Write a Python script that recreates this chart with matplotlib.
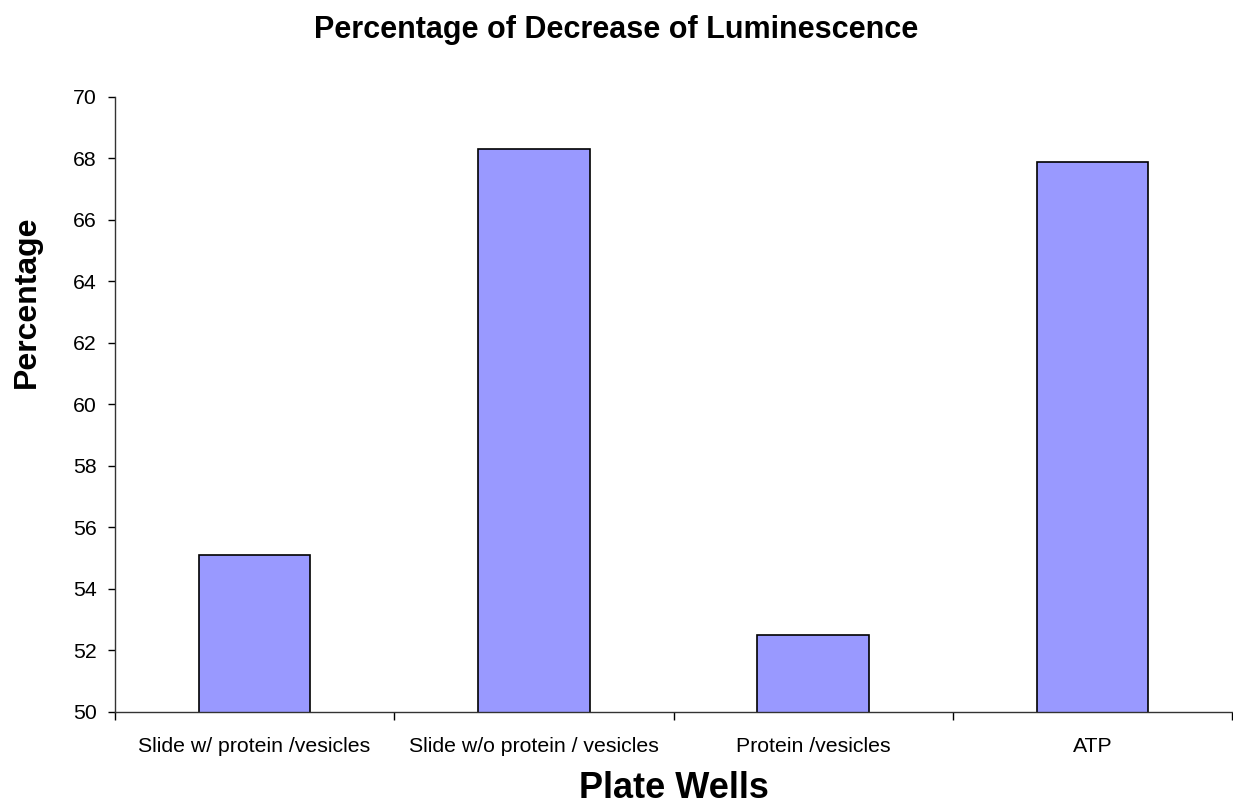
import matplotlib.pyplot as plt
import numpy as np

plt.rcParams['font.family'] = ['Liberation Sans', 'DejaVu Sans']

# data
categories = ["Slide w/ protein /vesicles", "Slide w/o protein / vesicles",
              "Protein /vesicles", "ATP"]
values = [55.1, 68.3, 52.5, 67.9]
yticks = [50, 52, 54, 56, 58, 60, 62, 64, 66, 68, 70]

fig = plt.figure(figsize=(12.33, 8.05), dpi=100)
ax = fig.add_axes([115 / 1233, 1 - 712 / 805, 1117 / 1233, 615 / 805])

x = np.arange(len(categories))
ax.bar(x, values, width=0.4, bottom=0, color="#9999ff",
       edgecolor="black", linewidth=1.2, zorder=2)

ax.set_xlim(-0.5, len(categories) - 0.5)
ax.set_ylim(50, 70)
ax.set_yticks(yticks)
ax.tick_params(axis="y", labelsize=15.3, length=5, width=1, pad=8)

# category labels between boundary ticks
ax.set_xticks(np.arange(len(categories) + 1) - 0.5)
ax.set_xticklabels([])
ax.set_xticks(x, minor=True)
ax.set_xticklabels(categories, minor=True, fontsize=15.3)
ax.tick_params(axis="x", which="major", length=6, width=1)
ax.tick_params(axis="x", which="minor", length=0, pad=18)

for s in ["top", "right"]:
    ax.spines[s].set_visible(False)
for s in ["left", "bottom"]:
    ax.spines[s].set_color("#333333")
    ax.spines[s].set_linewidth(1)

ax.set_xlabel("Plate Wells", fontsize=26, fontweight="bold", labelpad=11)
ax.set_ylabel("Percentage", fontsize=23, fontweight="bold", va="center")
ax.yaxis.set_label_coords((27 - 115) / 1117, (712 - 302) / 615)
fig.suptitle("Percentage of Decrease of Luminescence", fontsize=22,
             fontweight="bold", x=(314 + 918) / 2 / 1233, y=1 - 15 / 805)

fig.savefig("out.png", dpi=100)
